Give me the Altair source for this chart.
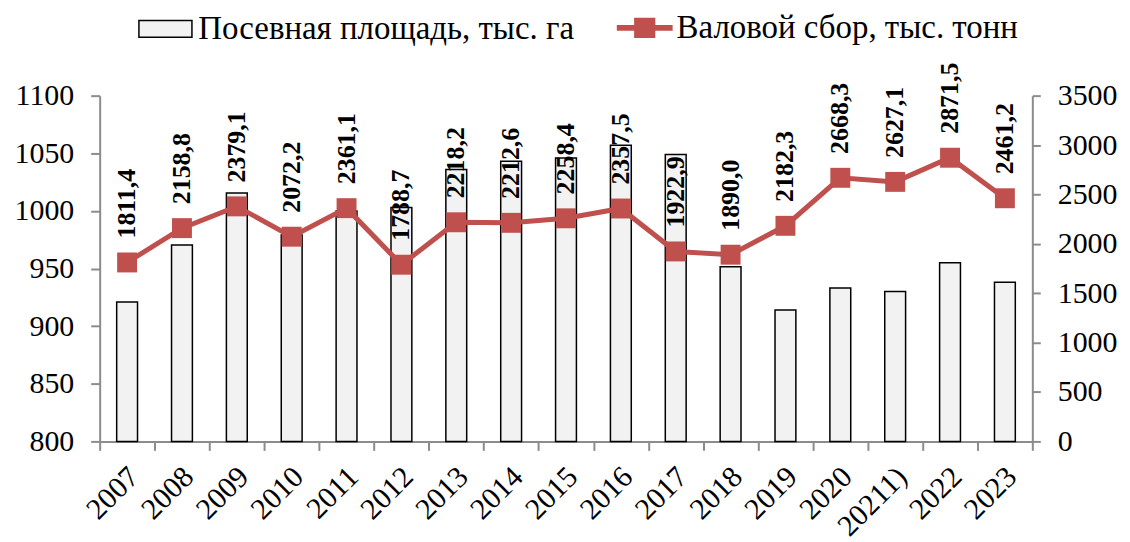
import altair as alt
import pandas as pd

years = ["2007", "2008", "2009", "2010", "2011", "2012", "2013", "2014", "2015",
         "2016", "2017", "2018", "2019", "2020", "20211)", "2022", "2023"]
area = [921, 970.5, 1015.5, 979, 1000, 1003, 1036, 1043, 1046, 1057, 1049,
        951.5, 914, 933, 930, 955, 938]
harvest = [1811.4, 2158.8, 2379.1, 2072.2, 2361.1, 1788.7, 2218.2, 2212.6,
           2258.4, 2357.5, 1922.9, 1890.0, 2182.3, 2668.3, 2627.1, 2871.5, 2461.2]
area_ticks = [800, 850, 900, 950, 1000, 1050, 1100]
harvest_ticks = [0, 500, 1000, 1500, 2000, 2500, 3000, 3500]
S_AREA = "Посевная площадь, тыс. га"
S_HARV = "Валовой сбор, тыс. тонн"

RED = "#c0504d"
AXIS_GRAY = "#8c8c8c"
FONT = "Liberation Serif"

df = pd.DataFrame({
    "year": years,
    "area": area,
    "harvest": harvest,
    "label": [f"{v:.1f}".replace(".", ",") for v in harvest],
})

axis_style = dict(title=None, labelFont=FONT, labelColor="black",
                  domainColor=AXIS_GRAY, tickColor=AXIS_GRAY,
                  domainWidth=2, tickWidth=2, grid=False)

x = alt.X("year:N", sort=years,
          scale=alt.Scale(paddingInner=0, paddingOuter=0),
          axis=alt.Axis(labelAngle=-45, labelAlign="right", labelBaseline="top",
                        labelFontSize=30,
                        tickBand="extent", tickSize=9, labelPadding=11,
                        labelOffset=-4, **axis_style))

legend_common = dict(title=None, orient="none", legendY=-96,
                     labelFontSize=33, labelFont=FONT, labelColor="black",
                     symbolSize=3136, labelOffset=4, labelLimit=600)

legend_area = alt.Legend(legendX=37,
                         symbolType="M-0.95,-0.3H0.95V0.3H-0.95Z",
                         symbolStrokeColor="black", symbolStrokeWidth=1.5,
                         symbolFillColor="#f2f2f2", symbolOpacity=1,
                         **legend_common)
legend_harv = alt.Legend(legendX=519,
                         symbolType="M-1,-0.1H-0.38V-0.36H0.38V-0.1H1V0.1H0.38V0.36H-0.38V0.1H-1Z",
                         symbolStrokeWidth=0, symbolOpacity=1,
                         **legend_common)

bars = alt.Chart(df).transform_calculate(series=f"'{S_AREA}'").mark_bar(
    stroke="black", strokeWidth=1.5, width=alt.RelativeBandSize(0.38)
).encode(
    x=x,
    y=alt.Y("area:Q", scale=alt.Scale(domain=[800, 1100], zero=False, nice=False),
            axis=alt.Axis(values=area_ticks, orient="left", format="d",
                          labelFontSize=30, tickSize=9, labelPadding=17,
                          **axis_style)),
    y2=alt.datum(800),
    fill=alt.Fill("series:N", scale=alt.Scale(domain=[S_AREA], range=["#f2f2f2"]),
                  legend=legend_area),
)

yh = alt.Y("harvest:Q", scale=alt.Scale(domain=[0, 3500], nice=False),
           axis=alt.Axis(values=harvest_ticks, orient="right", format="d",
                         labelFontSize=30, tickSize=8, labelPadding=17,
                         **axis_style))

base_h = alt.Chart(df).transform_calculate(series=f"'{S_HARV}'")
line = base_h.mark_line(strokeWidth=5, color=RED).encode(x=x, y=yh)
points = base_h.mark_point(shape="square", filled=True, size=400, opacity=1).encode(
    x=x, y=yh,
    color=alt.Color("series:N", scale=alt.Scale(domain=[S_HARV], range=[RED]),
                    legend=legend_harv))
texts = base_h.mark_text(angle=270, align="left", baseline="middle", dx=24,
                         font=FONT, fontSize=26, fontWeight="bold",
                         color="black").encode(x=x, y=yh, text="label:N")

right = alt.layer(line, points, texts)

chart = alt.layer(bars, right).resolve_scale(y="independent").properties(
    width=936, height=347,
    autosize=alt.AutoSizeParams(type="none"),
    padding={"left": 92, "top": 87, "right": 90, "bottom": 100},
).configure(font=FONT).configure_axis(
    labelFont=FONT, labelColor="black", grid=False
).configure_view(stroke=None)

chart.save("out.html", embed_options={"renderer": "svg", "actions": False})
